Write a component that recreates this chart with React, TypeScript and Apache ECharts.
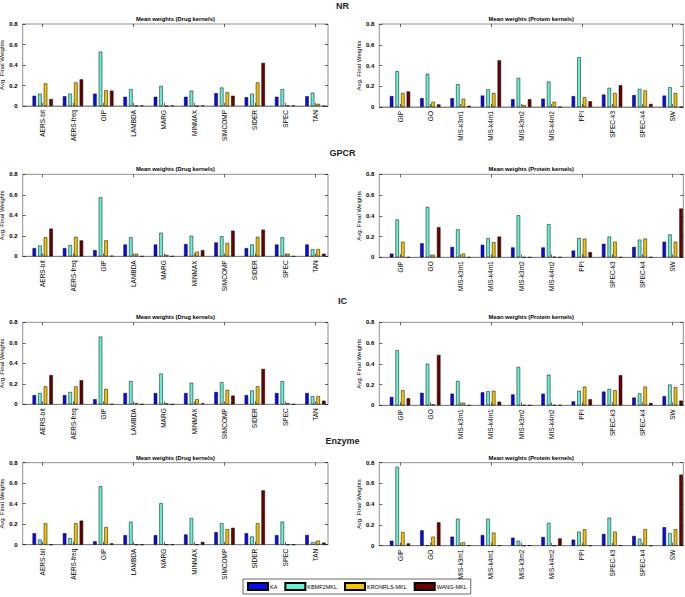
import React, { useEffect, useRef } from "react";
import * as echarts from "echarts";

const DRUG_KERNELS = ["AERS-bit", "AERS-freq", "GIP", "LAMBDA", "MARG", "MINMAX", "SIMCOMP", "SIDER", "SPEC", "TAN"];
const PROTEIN_KERNELS = ["GIP", "GO", "MIS-k3m1", "MIS-k4m1", "MIS-k3m2", "MIS-k4m2", "PPI", "SPEC-k3", "SPEC-k4", "SW"];
const METHODS = ["KA", "KBMF2MKL", "KRONRLS-MKL", "WANG-MKL"];
const DATASETS = ["NR", "GPCR", "IC", "Enzyme"];
const Y_MIN = 0;
const Y_MAX = 0.8;
const Y_STEP = 0.2;

// NR
const NR_DRUG_KA = [0.10, 0.095, 0.12, 0.09, 0.09, 0.09, 0.125, 0.085, 0.09, 0.095];
const NR_DRUG_KBMF = [0.12, 0.12, 0.53, 0.165, 0.195, 0.15, 0.18, 0.12, 0.165, 0.13];
const NR_DRUG_KRON = [0.22, 0.23, 0.155, 0.003, 0, 0, 0.135, 0.23, 0.005, 0.02];
const NR_DRUG_WANG = [0.068, 0.26, 0.15, 0.005, 0.005, 0.005, 0.10, 0.42, 0.005, 0];
const NR_PROT_KA = [0.105, 0.085, 0.085, 0.11, 0.075, 0.08, 0.105, 0.12, 0.115, 0.11];
const NR_PROT_KBMF = [0.345, 0.32, 0.22, 0.17, 0.28, 0.245, 0.48, 0.185, 0.175, 0.19];
const NR_PROT_KRON = [0.135, 0.05, 0.08, 0.135, 0.02, 0.05, 0.095, 0.135, 0.16, 0.135];
const NR_PROT_WANG = [0.15, 0.025, 0.012, 0.45, 0.075, 0, 0.055, 0.21, 0.03, 0];

// GPCR
const GPCR_DRUG_KA = [0.08, 0.08, 0.06, 0.115, 0.115, 0.12, 0.135, 0.08, 0.115, 0.115];
const GPCR_DRUG_KBMF = [0.105, 0.11, 0.575, 0.185, 0.23, 0.2, 0.195, 0.115, 0.185, 0.07];
const GPCR_DRUG_KRON = [0.185, 0.19, 0.155, 0.025, 0.015, 0.045, 0.13, 0.19, 0.025, 0.07];
const GPCR_DRUG_WANG = [0.27, 0.155, 0.005, 0, 0, 0.06, 0.25, 0.26, 0, 0.025];
const GPCR_PROT_KA = [0.035, 0.135, 0.1, 0.12, 0.095, 0.095, 0.065, 0.13, 0.1, 0.15];
const GPCR_PROT_KBMF = [0.365, 0.485, 0.27, 0.185, 0.405, 0.32, 0.185, 0.2, 0.17, 0.22];
const GPCR_PROT_KRON = [0.15, 0.025, 0.035, 0.145, 0, 0.005, 0.18, 0.15, 0.18, 0.15];
const GPCR_PROT_WANG = [0, 0.29, 0, 0.2, 0, 0, 0.05, 0, 0, 0.47];

// IC
const IC_DRUG_KA = [0.09, 0.09, 0.05, 0.11, 0.11, 0.11, 0.12, 0.09, 0.11, 0.11];
const IC_DRUG_KBMF = [0.11, 0.12, 0.66, 0.225, 0.3, 0.21, 0.215, 0.135, 0.225, 0.08];
const IC_DRUG_KRON = [0.175, 0.175, 0.15, 0.012, 0.01, 0.05, 0.14, 0.175, 0.01, 0.08];
const IC_DRUG_WANG = [0.285, 0.235, 0, 0, 0, 0.008, 0.085, 0.345, 0, 0.035];
const IC_PROT_KA = [0.08, 0.12, 0.112, 0.125, 0.105, 0.112, 0.038, 0.132, 0.075, 0.088];
const IC_PROT_KBMF = [0.53, 0.4, 0.235, 0.135, 0.37, 0.295, 0.14, 0.158, 0.115, 0.2];
const IC_PROT_KRON = [0.145, 0.01, 0.025, 0.14, 0.003, 0.003, 0.18, 0.145, 0.18, 0.175];
const IC_PROT_WANG = [0.068, 0.485, 0, 0.035, 0, 0, 0.058, 0.29, 0.022, 0.045];

// Enzyme
const ENZ_DRUG_KA = [0.112, 0.112, 0.033, 0.093, 0.093, 0.1, 0.122, 0.112, 0.093, 0.095];
const ENZ_DRUG_KBMF = [0.05, 0.063, 0.57, 0.225, 0.405, 0.26, 0.21, 0.08, 0.225, 0.025];
const ENZ_DRUG_KRON = [0.208, 0.21, 0.172, 0, 0, 0, 0.152, 0.21, 0, 0.04];
const ENZ_DRUG_WANG = [0, 0.235, 0.013, 0, 0, 0.027, 0.165, 0.53, 0, 0.02];
const ENZ_PROT_KA = [0.048, 0.148, 0.087, 0.103, 0.077, 0.084, 0.058, 0.113, 0.094, 0.178];
const ENZ_PROT_KBMF = [0.76, 0.003, 0.26, 0.26, 0.048, 0.22, 0.135, 0.27, 0.068, 0.12];
const ENZ_PROT_KRON = [0.132, 0.087, 0.032, 0.126, 0, 0, 0.158, 0.135, 0.16, 0.158];
const ENZ_PROT_WANG = [0.022, 0.225, 0.003, 0.003, 0.003, 0.07, 0, 0.003, 0, 0.685];

const DRUG_DATA = [
  [NR_DRUG_KA, NR_DRUG_KBMF, NR_DRUG_KRON, NR_DRUG_WANG],
  [GPCR_DRUG_KA, GPCR_DRUG_KBMF, GPCR_DRUG_KRON, GPCR_DRUG_WANG],
  [IC_DRUG_KA, IC_DRUG_KBMF, IC_DRUG_KRON, IC_DRUG_WANG],
  [ENZ_DRUG_KA, ENZ_DRUG_KBMF, ENZ_DRUG_KRON, ENZ_DRUG_WANG],
];
const PROT_DATA = [
  [NR_PROT_KA, NR_PROT_KBMF, NR_PROT_KRON, NR_PROT_WANG],
  [GPCR_PROT_KA, GPCR_PROT_KBMF, GPCR_PROT_KRON, GPCR_PROT_WANG],
  [IC_PROT_KA, IC_PROT_KBMF, IC_PROT_KRON, IC_PROT_WANG],
  [ENZ_PROT_KA, ENZ_PROT_KBMF, ENZ_PROT_KRON, ENZ_PROT_WANG],
];

const COLORS = ["#0a0aee", "#66f2d4", "#f5c400", "#6a0000"];
const FONT = "'Liberation Sans', Arial, Helvetica, sans-serif";

function buildOption() {
  const rowTop = [24, 174.3, 322.3, 462.7];
  const rowHead = [6, 153, 301, 441];
  const cols = [
    { frameLeft: 22.7, frameWidth: 305.3, dataLeft: 27.55, h: 82, nameGap: 14, title: "Mean weights (Drug kernels)", cats: DRUG_KERNELS, data: DRUG_DATA },
    { frameLeft: 379.3, frameWidth: 304, dataLeft: 384.85, h: 83, nameGap: 16, title: "Mean weights (Protein kernels)", cats: PROTEIN_KERNELS, data: PROT_DATA },
  ];
  const dataWidth = 303;

  const grid: any[] = [];
  const xAxis: any[] = [];
  const yAxis: any[] = [];
  const series: any[] = [];
  const graphic: any[] = [];

  DATASETS.forEach((ds, r) => {
    graphic.push({
      type: "text",
      x: 342.5,
      y: rowHead[r],
      style: { text: ds, fill: "#222", font: `bold 9px ${FONT}`, textAlign: "center", textVerticalAlign: "middle" },
      silent: true,
    });
    cols.forEach((c) => {
      const p = grid.length / 2;
      const top = rowTop[r];
      graphic.push({
        type: "text",
        x: c.frameLeft + c.frameWidth / 2,
        y: top - 5,
        style: { text: c.title, fill: "#000", font: `bold 5.8px ${FONT}`, textAlign: "center", textVerticalAlign: "middle" },
        silent: true,
      });
      grid.push({
        left: c.frameLeft, top, width: c.frameWidth, height: c.h,
        show: true, borderColor: "#444", borderWidth: 0.6, backgroundColor: "transparent",
        containLabel: false, outerBoundsMode: "none",
      });
      grid.push({
        left: c.dataLeft, top, width: dataWidth, height: c.h,
        containLabel: false, outerBoundsMode: "none",
      });
      const gFrame = 2 * p;
      const gData = 2 * p + 1;
      xAxis.push({
        type: "value", gridIndex: gFrame, min: 0, max: 1, position: "bottom",
        axisLine: { show: true, lineStyle: { color: "#777", width: 0.8 } },
        axisTick: { show: false }, axisLabel: { show: false }, splitLine: { show: false },
      });
      const tick = { show: true, inside: true, alignWithLabel: true, length: 3, lineStyle: { color: "#000", width: 0.6 } };
      xAxis.push({
        type: "category", gridIndex: gData, data: c.cats, position: "bottom", boundaryGap: true,
        axisLine: { show: false }, axisTick: tick,
        axisLabel: { show: true, rotate: 90, interval: 0, fontSize: 6.5, margin: 4, color: "#000", fontFamily: FONT },
        splitLine: { show: false },
      });
      xAxis.push({
        type: "category", gridIndex: gData, data: c.cats, position: "top", boundaryGap: true,
        axisLine: { show: false }, axisTick: tick, axisLabel: { show: false }, splitLine: { show: false },
      });
      const yTick = { show: true, inside: true, length: 3, lineStyle: { color: "#000", width: 0.6 } };
      yAxis.push({
        type: "value", gridIndex: gFrame, min: Y_MIN, max: Y_MAX, interval: Y_STEP, position: "left",
        axisLine: { show: false }, axisTick: yTick,
        axisLabel: { show: true, fontSize: 6, margin: 5, color: "#000", fontFamily: FONT, fontWeight: "bold" },
        splitLine: { show: false },
        name: "Avg. Final Weights", nameLocation: "middle", nameGap: c.nameGap,
        nameTextStyle: { fontSize: 6, color: "#000", fontFamily: FONT },
      });
      yAxis.push({
        type: "value", gridIndex: gFrame, min: Y_MIN, max: Y_MAX, interval: Y_STEP, position: "right",
        axisLine: { show: false }, axisTick: yTick, axisLabel: { show: false }, splitLine: { show: false },
      });
      yAxis.push({
        type: "value", gridIndex: gData, min: Y_MIN, max: Y_MAX, show: false, splitLine: { show: false },
      });
      const xData = 3 * p + 1;
      const yData = 3 * p + 2;
      METHODS.forEach((m, mi) => {
        series.push({
          type: "bar",
          name: m,
          xAxisIndex: xData,
          yAxisIndex: yData,
          data: c.data[r][mi],
          barWidth: 3.5,
          barGap: "60%",
          itemStyle: { color: COLORS[mi], borderColor: "#000", borderWidth: 0.5 },
          emphasis: { disabled: true },
          silent: true,
        });
      });
    });
  });

  return {
    animation: false,
    backgroundColor: "#fff",
    textStyle: { fontFamily: FONT },
    grid,
    xAxis,
    yAxis,
    series,
    graphic,
    legend: {
      data: METHODS,
      left: 243,
      top: 579,
      orient: "horizontal",
      icon: "rect",
      itemWidth: 20,
      itemHeight: 7,
      itemGap: 7,
      padding: [3, 4],
      borderColor: "#000",
      borderWidth: 0.6,
      selectedMode: false,
      textStyle: { fontSize: 5.5, color: "#000", fontFamily: FONT, padding: [0, 0, 0, -3] },
    },
  };
}

export default function App() {
  const ref = useRef<HTMLDivElement>(null);
  useEffect(() => {
    if (!ref.current) return;
    document.body.style.margin = "0";
    const chart = echarts.init(ref.current, null, { renderer: "svg" });
    chart.setOption(buildOption() as any);
    return () => chart.dispose();
  }, []);
  return <div ref={ref} style={{ position: "absolute", left: 0, top: 0, width: 685, height: 597 }} />;
}
